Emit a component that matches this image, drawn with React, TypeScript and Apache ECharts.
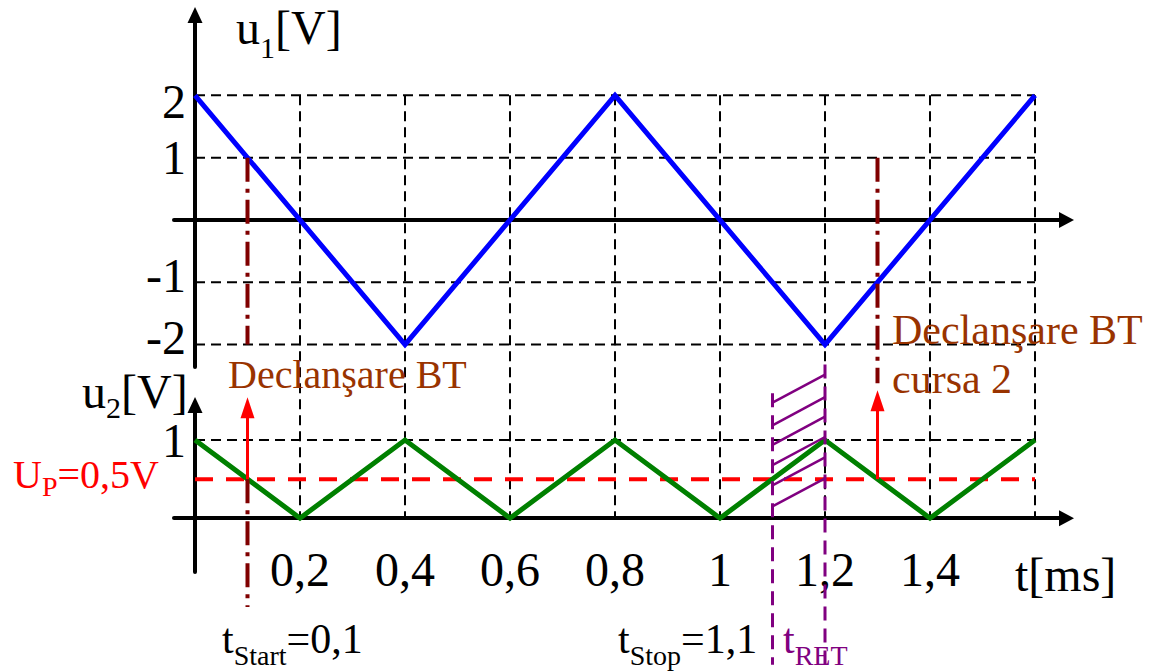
import React, { useEffect, useRef } from "react";
import * as echarts from "echarts";

const SERIF = "Liberation Serif";

// ---- data (time in ms, voltages in V) ----
const u1Times = [0, 0.4, 0.8, 1.2, 1.6];
const u1Volts = [2, -2, 2, -2, 2];
const u2Times = [0, 0.2, 0.4, 0.6, 0.8, 1, 1.2, 1.4, 1.6];
const u2Volts = [1, 0, 1, 0, 1, 0, 1, 0, 1];

const timeTicks = [0.2, 0.4, 0.6, 0.8, 1, 1.2, 1.4];
const timeGridLines = [0.2, 0.4, 0.6, 0.8, 1, 1.2, 1.4, 1.6];
const u1Ticks = [-2, -1, 1, 2];
const u1GridLevels = [2, 1, -1, -2];
const u2Ticks = [1];
const u2GridLevels = [1];
const gridStartTime = 0;
const gridEndTime = 1.6;

const upThreshold = 0.5; // U_P = 0,5 V
const triggerTimes = [0.1, 1.3]; // Declansare BT moments
const cursorTopU1 = 1;
const tStop = 1.1;
const tRetEnd = 1.2;
const hatchStartU2 = [1.48, 1.19, 0.94, 0.68, 0.42, 0.15];
const hatchRiseU2 = 0.36;

// extents of the decorative vertical marks (in axis units)
const cursor1LowU1 = -2;
const cursor1TailU2 = -1.14;
const cursor2LowU2 = 1.73;
const arrowTipU2 = [1.55, 1.64];
const purpleTopU2 = [1.6, 1.97];
const purpleBottomU2 = -1.88;

// axis ranges
const X_MIN = -0.04;
const X_MAX = 1.66;
const U1_MIN = -2.36;
const U1_MAX = 3.29;
const U2_MIN = -0.69;
const U2_MAX = 1.45;

export default function App() {
  const ref = useRef<HTMLDivElement>(null);

  useEffect(() => {
    const chart = echarts.init(ref.current!, null, { renderer: "svg" });
    const axisLineStyle = { color: "#000", width: 4 };
    const hiddenX = {
      type: "value",
      min: X_MIN,
      max: X_MAX,
      axisLine: {
        onZero: true,
        symbol: ["none", "triangle"],
        symbolSize: [16, 15],
        lineStyle: axisLineStyle,
      },
      axisTick: { show: false },
      splitLine: { show: false },
    };
    const yCommon = {
      type: "value",
      axisLine: {
        onZero: true,
        symbol: ["none", "triangle"],
        symbolSize: [15, 16],
        lineStyle: axisLineStyle,
      },
      axisTick: { show: false },
      splitLine: { show: false },
    };
    const tickFont = {
      fontSize: 48,
      fontFamily: SERIF,
      color: "#000",
      lineHeight: 40,
      showMinLabel: true,
      showMaxLabel: true,
      hideOverlap: false,
    };
    const richTick = (pad: number[]) => ({
      fontSize: 48,
      fontFamily: SERIF,
      color: "#000",
      lineHeight: 40,
      padding: pad,
    });

    chart.setOption({
      animation: false,
      backgroundColor: "#ffffff",
      grid: [
        { left: 174, right: 84.5, top: 15, bottom: 304 },
        { left: 174, right: 84.5, top: 405, bottom: 99 },
      ],
      xAxis: [
        { ...hiddenX, gridIndex: 0, axisLabel: { show: false } },
        {
          ...hiddenX,
          gridIndex: 1,
          axisLabel: {
            ...tickFont,
            customValues: timeTicks,
            margin: -23,
            formatter: (v: number) => String(v).replace(".", ","),
          },
        },
      ],
      yAxis: [
        {
          ...yCommon,
          gridIndex: 0,
          min: U1_MIN,
          max: U1_MAX,
          axisLabel: {
            ...tickFont,
            customValues: u1Ticks,
            margin: -12,
            formatter: (v: number) =>
              v >= 2 ? `{dn|${v}}` : v < 0 ? `{up|${v}}` : `{n|${v}}`,
            rich: {
              dn: richTick([12, 0, 0, 0]),
              up: richTick([0, 0, 14, 0]),
              n: richTick([0, 0, 0, 0]),
            },
          },
        },
        {
          ...yCommon,
          gridIndex: 1,
          min: U2_MIN,
          max: U2_MAX,
          axisLabel: { ...tickFont, customValues: u2Ticks, margin: -12 },
        },
      ],
      series: [
        {
          name: "u1",
          type: "line",
          xAxisIndex: 0,
          yAxisIndex: 0,
          data: u1Times.map((t, i) => [t, u1Volts[i]]),
          symbol: "none",
          lineStyle: { color: "#0000ff", width: 5, join: "miter" },
          z: 5,
        },
        {
          name: "u2",
          type: "line",
          xAxisIndex: 1,
          yAxisIndex: 1,
          data: u2Times.map((t, i) => [t, u2Volts[i]]),
          symbol: "none",
          lineStyle: { color: "#008000", width: 5, join: "miter" },
          z: 5,
        },
        {
          name: "UP",
          type: "line",
          xAxisIndex: 1,
          yAxisIndex: 1,
          data: [
            [gridStartTime, upThreshold],
            [gridEndTime, upThreshold],
          ],
          symbol: "none",
          lineStyle: { color: "#ff0000", width: 4, type: [18, 13] },
          z: 4,
        },
      ],
    });

    const p0 = (t: number, v: number) =>
      chart.convertToPixel({ gridIndex: 0 }, [t, v]) as number[];
    const p1 = (t: number, v: number) =>
      chart.convertToPixel({ gridIndex: 1 }, [t, v]) as number[];
    const seg = (a: number[], b: number[], style: any, z: number) => ({
      type: "line",
      silent: true,
      z,
      shape: { x1: a[0], y1: a[1], x2: b[0], y2: b[1] },
      style: { fill: null, ...style },
    });

    const els: any[] = [];
    const gridStyle = { stroke: "#000", lineWidth: 2, lineDash: [10, 6] };
    // vertical grid lines spanning both plots
    timeGridLines.forEach((t) => {
      els.push(seg(p0(t, u1GridLevels[0]), p1(t, 0), gridStyle, 1));
    });
    u1GridLevels.forEach((v) => {
      els.push(seg(p0(gridStartTime, v), p0(gridEndTime, v), gridStyle, 1));
    });
    u2GridLevels.forEach((v) => {
      els.push(seg(p1(gridStartTime, v), p1(gridEndTime, v), gridStyle, 1));
    });

    // dash-dot trigger cursors
    const cursorStyle = { stroke: "#800000", lineWidth: 4, lineDash: [24, 7, 4, 7] };
    els.push(seg(p0(triggerTimes[0], cursorTopU1), p0(triggerTimes[0], cursor1LowU1), cursorStyle, 6));
    els.push(seg(p1(triggerTimes[0], upThreshold), p1(triggerTimes[0], cursor1TailU2), cursorStyle, 6));
    els.push(seg(p0(triggerTimes[1], cursorTopU1), p1(triggerTimes[1], cursor2LowU2), cursorStyle, 6));

    // red arrows from U_P upward
    triggerTimes.forEach((t, i) => {
      const base = p1(t, upThreshold);
      const tip = p1(t, arrowTipU2[i]);
      els.push(seg(base, [tip[0], tip[1] + 18], { stroke: "#ff0000", lineWidth: 3 }, 6));
      els.push({
        type: "polygon",
        silent: true,
        z: 6,
        shape: {
          points: [
            [tip[0], tip[1]],
            [tip[0] - 7, tip[1] + 21],
            [tip[0] + 7, tip[1] + 21],
          ],
        },
        style: { fill: "#ff0000" },
      });
    });

    // purple t_RET interval
    const purpleDash = { stroke: "#800080", lineWidth: 3, lineDash: [14, 8] };
    [tStop, tRetEnd].forEach((t, i) => {
      els.push(seg(p1(t, purpleTopU2[i]), p1(t, purpleBottomU2), purpleDash, 7));
    });
    hatchStartU2.forEach((h) => {
      els.push(
        seg(p1(tStop, h), p1(tRetEnd, h + hatchRiseU2), { stroke: "#800080", lineWidth: 2.5 }, 7)
      );
    });

    // texts
    const rt = (x: number, y: number, text: string, rich: any) => ({
      type: "text",
      x,
      y,
      z: 20,
      silent: true,
      style: {
        x: 0,
        y: 0,
        text,
        rich,
        align: "left",
        textAlign: "left",
        verticalAlign: "top",
        textVerticalAlign: "top",
      },
    });
    const main = (size: number, color: string, lh: number) => ({
      fontSize: size,
      fontFamily: SERIF,
      fill: color,
      color,
      lineHeight: lh,
      verticalAlign: "top",
    });
    const sub = (size: number, color: string, pad: number) => ({
      fontSize: size,
      fontFamily: SERIF,
      fill: color,
      color,
      lineHeight: size,
      padding: [pad, 0, 0, 0],
      verticalAlign: "top",
    });

    els.push(rt(236, 3, "{m|u}{s|1}{m|[V]}", { m: main(48, "#000", 52), s: sub(30, "#000", 29) }));
    els.push(rt(82, 367, "{m|u}{s|2}{m|[V]}", { m: main(48, "#000", 44), s: sub(30, "#000", 25) }));
    els.push(rt(13, 454, "{m|U}{s|P}{m|=0,5V}", { m: main(40, "#ff0000", 44), s: sub(28, "#ff0000", 18) }));
    els.push(rt(222, 618, "{m|t}{s|Start}{m|=0,1}", { m: main(42, "#000", 46), s: sub(28, "#000", 23) }));
    els.push(rt(618, 618, "{m|t}{s|Stop}{m|=1,1}", { m: main(42, "#000", 46), s: sub(28, "#000", 23) }));
    els.push(rt(783, 618, "{m|t}{s|RET}", { m: main(42, "#800080", 46), s: sub(28, "#800080", 23) }));

    const plain = (x: number, y: number, text: string, size: number, color: string, lh: number) => ({
      type: "text",
      x,
      y,
      z: 20,
      silent: true,
      style: {
        x: 0,
        y: 0,
        text,
        fontSize: size,
        fontFamily: SERIF,
        fill: color,
        lineHeight: lh,
        align: "left",
        textAlign: "left",
        verticalAlign: "top",
        textVerticalAlign: "top",
      },
    });
    els.push(plain(228, 351, "Declanşare BT", 40, "#993300", 46));
    els.push(plain(892, 305, "Declanşare BT\ncursa 2", 42, "#993300", 49));
    els.push(plain(1015, 549, "t[ms]", 48, "#000", 50));

    chart.setOption({ graphic: { elements: els } });

    return () => chart.dispose();
  }, []);

  return (
    <div
      ref={ref}
      style={{ position: "fixed", left: 0, top: 0, width: 1151, height: 671, background: "#fff" }}
    />
  );
}
